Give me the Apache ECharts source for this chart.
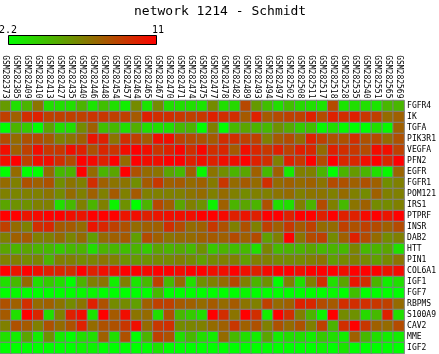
<!DOCTYPE html>
<html>
<head>
<meta charset="utf-8">
<script src="https://cdn.jsdelivr.net/npm/echarts@6.0.0/dist/echarts.min.js"></script>
<style>
html,body{margin:0;padding:0;background:#fff;}
#chart{width:439px;height:354px;}
</style>
</head>
<body>
<div id="chart"></div>
<script>
const titleText = 'network 1214 - Schmidt';
const scaleMin = 2.2;
const scaleMax = 11;
const scaleLabels = ['2.2', '11'];

const samples = ['GSM282373','GSM282385','GSM282409','GSM282410','GSM282413','GSM282427','GSM282435','GSM282440','GSM282446','GSM282448','GSM282454','GSM282457','GSM282464','GSM282465','GSM282467','GSM282470','GSM282471','GSM282474','GSM282475','GSM282477','GSM282478','GSM282482','GSM282489','GSM282493','GSM282494','GSM282497','GSM282502','GSM282508','GSM282511','GSM282517','GSM282518','GSM282528','GSM282535','GSM282540','GSM282551','GSM282565','GSM282569'];

const genes = ['FGFR4','IK','TGFA','PIK3R1','VEGFA','PFN2','EGFR','FGFR1','POM121','IRS1','PTPRF','INSR','DAB2','HTT','PIN1','COL6A1','IGF1','FGF7','RBPMS','S100A9','CAV2','MME','IGF2'];

const FGFR4  = [5.7,3.3,4.8,7.0,3.3,3.3,3.3,4.8,3.1,4.4, 3.3,2.8,6.2,3.1,6.2,3.3,3.3,3.3,3.1,6.2, 3.3,3.5,8.5,5.7,4.4,3.3,4.4,3.5,3.3,3.1, 8.4,3.1,3.3,3.3,3.1,4.7,4.7];
const IK     = [8.8,7.7,9.4,9.9,8.8,8.8,8.8,8.8,9.2,9.1, 8.8,8.8,7.9,9.9,9.4,9.4,9.1,8.8,9.1,9.9, 9.4,9.4,7.9,9.9,7.9,8.4,8.8,8.8,9.9,8.4, 9.9,9.4,9.9,9.1,8.8,7.3,7.7];
const TGFA   = [2.2,4.8,4.0,2.2,5.3,3.3,3.3,6.2,7.7,4.4, 4.6,3.3,5.0,3.3,3.3,3.3,4.6,4.8,2.2,6.6, 2.2,4.6,5.3,4.8,4.6,6.0,5.1,4.0,4.4,2.4, 3.3,2.4,2.2,2.2,3.3,2.4,7.7];
const PIK3R1 = [8.4,7.3,8.2,8.4,7.9,6.6,7.0,7.7,10.3,9.9, 7.0,9.4,8.8,7.9,10.5,10.5,8.8,8.4,8.2,7.9, 9.4,9.4,8.8,8.8,6.6,7.9,8.4,7.3,9.9,8.8, 8.2,8.2,9.4,8.2,8.4,7.3,8.2];
const VEGFA  = [10.5,7.7,8.8,10.5,9.1,9.1,10.5,9.9,8.2,9.7, 9.2,10.6,11,10.5,9.2,9.9,10.8,9.4,10.8,9.4, 9.7,7.9,10.5,9.7,9.1,9.9,8.8,9.9,9.7,7.3, 9.9,9.4,9.1,8.4,10.6,10.5,8.8];
const PFN2   = [10.5,11,8.8,10.5,10.5,9.4,8.4,11,10.7,9.9, 11,7.3,11,10.6,10.5,11,11,9.9,10.5,9.9, 10.5,10.5,11,9.9,9.4,6.6,9.9,9.1,11,8.4, 11,9.7,9.7,10.5,11,9.7,11];
const EGFR   = [2.2,7.3,2.2,2.2,7.3,4.6,4.8,11,7.3,4.8, 5.3,11,8.2,7.3,7.0,5.3,4.6,7.7,2.4,7.0, 6.1,4.8,5.3,7.7,4.6,7.7,2.9,6.6,6.6,4.8, 2.2,4.8,5.7,4.8,3.3,2.4,7.5];
const FGFR1  = [7.3,6.6,8.2,7.7,8.2,6.1,7.0,6.6,9.4,7.7, 7.0,7.0,6.1,7.9,9.1,7.7,7.9,7.3,7.7,6.8, 9.1,7.3,7.9,7.3,9.4,7.3,7.7,7.3,7.7,7.0, 8.4,8.2,7.7,8.2,7.7,6.1,6.6];
const POM121 = [6.6,6.4,6.6,6.6,7.0,6.2,7.3,6.6,7.7,6.6, 7.9,6.6,7.9,6.6,6.6,6.6,6.6,7.0,7.3,6.6, 7.3,6.6,6.2,6.6,6.6,7.0,7.3,6.6,7.0,7.0, 6.6,7.3,6.6,6.2,7.7,6.6,6.6];
const IRS1   = [5.3,6.0,6.0,6.6,6.6,3.3,4.6,6.6,4.8,6.6, 2.6,6.0,2.2,4.8,8.5,7.7,5.3,6.6,6.0,2.6, 7.7,4.8,5.3,4.8,8.2,3.3,3.3,6.6,4.8,8.4, 6.6,4.6,7.0,7.7,6.2,6.2,6.6];
const PTPRF  = [11,11,10.3,10.7,11,11,10.5,10.3,11,11, 11,10.3,10.5,9.9,10.3,10.5,10.5,10.5,11,11, 10.7,9.9,10.3,9.9,11,11,9.9,11,11,9.9, 11,9.9,9.9,10.7,11,10.3,11];
const INSR   = [8.8,7.3,6.6,9.4,9.7,7.9,7.9,7.3,10.3,9.7, 8.8,8.2,7.3,7.7,7.7,9.4,8.4,7.3,7.7,9.1, 8.2,6.6,8.2,6.6,8.8,7.7,9.1,7.9,8.8,7.3, 7.3,8.8,8.2,8.8,8.4,7.7,8.4];
const DAB2   = [6.6,7.7,7.9,6.6,6.6,7.3,6.4,7.3,5.5,7.3, 7.7,7.9,5.5,8.4,7.7,7.0,7.3,7.3,7.7,7.9, 7.7,8.4,7.7,8.4,5.5,6.6,11,7.0,8.4,8.8, 6.2,7.7,9.9,8.4,7.3,6.2,6.6];
const HTT    = [5.3,4.8,5.3,4.8,4.6,4.0,4.6,4.8,3.3,4.8, 4.7,4.4,4.8,4.0,5.3,4.8,5.1,4.6,6.0,4.1, 4.8,4.4,4.6,3.3,6.4,4.6,4.8,4.8,5.3,4.6, 4.8,4.6,6.4,4.6,4.8,5.3,3.3];
const PIN1   = [6.6,6.6,6.2,6.4,4.8,6.6,6.6,6.2,6.4,7.0, 6.6,5.9,5.7,5.9,6.2,6.2,6.6,6.2,5.5,6.2, 6.6,6.6,5.5,6.6,6.6,6.2,6.2,6.2,6.6,7.0, 5.5,6.2,6.6,6.2,5.5,6.2,7.0];
const COL6A1 = [11,10.3,11,10.5,9.9,9.7,9.4,11,9.9,10.5, 10.3,11,11,10.7,11,11,10.6,11,11,10.5, 10.5,11,10.5,9.9,10.7,11,11,10.5,11,11, 11,10.5,11,11,11,10.3,10.6];
const IGF1   = [3.3,4.6,7.3,3.3,4.0,3.3,2.2,4.8,6.6,7.0, 2.8,6.6,3.1,4.6,8.8,4.6,7.3,3.3,6.0,6.6, 7.3,8.5,6.6,4.8,6.0,2.2,6.6,3.3,6.6,9.4, 3.3,5.3,10.3,9.4,4.8,2.8,3.3];
const FGF7   = [2.2,2.4,2.2,2.2,2.2,2.2,2.2,2.4,2.5,2.2, 2.2,2.2,2.2,2.2,4.6,2.2,2.2,2.2,2.2,2.2, 2.2,2.2,2.5,2.2,2.2,2.2,2.2,2.2,2.2,2.2, 2.4,2.2,4.4,2.2,2.2,2.2,2.2];
const RBPMS  = [8.2,7.7,9.4,7.3,7.7,7.0,6.2,7.0,9.9,8.2, 6.2,6.2,5.5,7.7,8.8,8.8,7.9,7.7,7.3,7.9, 7.3,7.9,7.0,6.6,8.8,7.3,7.7,9.9,9.7,8.4, 7.9,9.4,9.4,9.4,9.1,8.8,7.3];
const S100A9 = [7.9,3.3,11,9.7,3.3,6.6,9.9,10.5,3.1,11, 7.9,10.5,7.0,7.3,3.3,8.2,4.6,4.0,3.3,11, 9.4,7.0,11,9.4,2.8,11,9.4,6.6,4.8,2.6, 11,6.2,6.0,3.5,4.6,9.9,3.3];
const CAV2   = [6.6,8.2,7.9,6.6,8.2,7.3,8.2,9.9,7.3,8.2, 8.2,9.1,10.5,7.3,9.1,9.4,6.2,6.4,6.6,7.3, 7.7,9.1,7.7,8.2,6.6,8.2,7.3,8.2,6.6,8.8, 4.8,9.4,11,9.1,7.7,7.3,8.4];
const MME    = [3.3,2.8,5.3,2.8,6.0,2.8,2.2,3.3,3.3,7.7, 3.3,8.2,2.2,4.8,8.8,8.2,3.3,4.6,3.3,2.8, 7.3,4.6,3.3,2.8,5.3,2.8,3.3,3.3,2.8,4.0, 3.3,2.8,7.7,4.6,3.3,2.8,2.8];
const IGF2   = [2.2,2.2,2.2,2.2,2.2,2.2,2.2,2.6,2.6,2.2, 2.2,2.2,2.2,2.2,3.1,2.2,2.2,2.2,2.2,2.2, 2.2,2.2,2.2,2.2,2.2,2.2,2.2,2.2,2.2,2.6, 2.2,3.1,2.2,2.2,2.2,2.2,2.2];

const rows = [FGFR4, IK, TGFA, PIK3R1, VEGFA, PFN2, EGFR, FGFR1, POM121, IRS1, PTPRF, INSR, DAB2, HTT, PIN1, COL6A1, IGF1, FGF7, RBPMS, S100A9, CAV2, MME, IGF2];

const data = [];
rows.forEach(function (row, yi) {
  row.forEach(function (v, xi) { data.push([xi, yi, v]); });
});

const mono = 'DejaVu Sans Mono';
const chart = echarts.init(document.getElementById('chart'), null, { renderer: 'canvas' });
chart.setOption({
  animation: false,
  backgroundColor: '#ffffff',
  title: {
    text: titleText,
    left: 129,
    top: 0,
    textStyle: { fontFamily: mono, fontSize: 13, fontWeight: 'normal', color: '#000' }
  },
  grid: { left: -0.5, top: 100.5, width: 407, height: 253, containLabel: false },
  xAxis: {
    type: 'category',
    data: samples,
    position: 'top',
    axisLine: { show: false },
    axisTick: { show: false },
    splitLine: { show: false },
    axisLabel: { rotate: 90, interval: 0, margin: 2, fontFamily: mono, fontSize: 8, color: '#000' }
  },
  yAxis: {
    type: 'category',
    data: genes,
    inverse: true,
    position: 'right',
    axisLine: { show: false },
    axisTick: { show: false },
    splitLine: { show: false },
    axisLabel: { interval: 0, margin: 3, fontFamily: mono, fontSize: 8, color: '#000' }
  },
  visualMap: {
    show: false,
    type: 'continuous',
    min: scaleMin,
    max: scaleMax,
    dimension: 2,
    inRange: { color: ['#00ff00', '#ff0000'] }
  },
  graphic: [
    {
      type: 'rect',
      shape: { x: 8.5, y: 35.5, width: 148, height: 9 },
      style: {
        fill: new echarts.graphic.LinearGradient(0, 0, 1, 0, [
          { offset: 0, color: '#00ff00' },
          { offset: 1, color: '#ff0000' }
        ]),
        stroke: '#000',
        lineWidth: 1
      }
    },
    {
      type: 'text',
      x: -1, y: 30.5,
      style: { text: scaleLabels[0], font: '10px "DejaVu Sans Mono"', fill: '#000', textVerticalAlign: 'middle', verticalAlign: 'middle' }
    },
    {
      type: 'text',
      x: 152, y: 30.5,
      style: { text: scaleLabels[1], font: '10px "DejaVu Sans Mono"', fill: '#000', textVerticalAlign: 'middle', verticalAlign: 'middle' }
    }
  ],
  series: [{
    type: 'heatmap',
    data: data,
    itemStyle: { borderColor: '#808080', borderWidth: 1 },
    emphasis: { disabled: true },
    progressive: 0
  }]
});
</script>
</body>
</html>
